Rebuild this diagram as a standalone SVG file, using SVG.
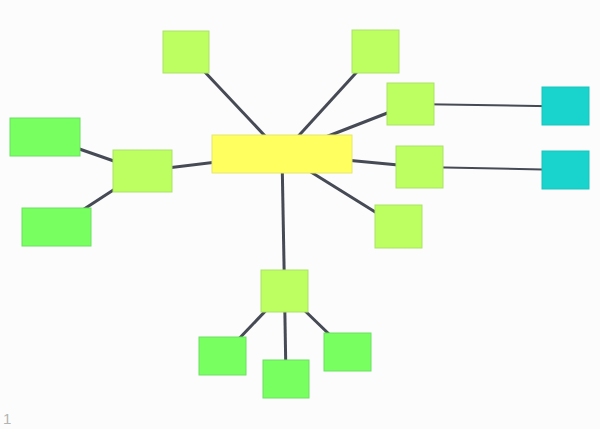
<svg xmlns="http://www.w3.org/2000/svg" width="600" height="429" viewBox="0 0 600 429">
<style>
.e{stroke:#464a54;stroke-width:3;fill:none}
.t{stroke:#464a54;stroke-width:2;fill:none}
.c{fill:#ffff60;stroke:#e6e670;stroke-width:1}
.l{fill:#bdff60;stroke:#a9e266;stroke-width:1}
.g{fill:#78ff60;stroke:#6ae060;stroke-width:1}
.y{fill:#18d4cc;stroke:#18c4bc;stroke-width:1}
.lbl{font-family:"Liberation Sans",Arial,sans-serif;font-size:15px;fill:#b4b4b4}
</style>
<rect width="600" height="429" fill="#fcfcfc"/>
<g id="connectors">
<line class="e" x1="282" y1="154" x2="186" y2="52"/>
<line class="e" x1="282" y1="154" x2="375.5" y2="51.5"/>
<line class="e" x1="282" y1="154" x2="410.5" y2="104"/>
<line class="e" x1="282" y1="154" x2="419.5" y2="167"/>
<line class="e" x1="282" y1="154" x2="142.5" y2="171"/>
<line class="e" x1="282" y1="154" x2="284.5" y2="291"/>
<line class="e" x1="282" y1="154" x2="398.5" y2="226.5"/>
<line class="t" x1="410.5" y1="104" x2="565.5" y2="106.5"/>
<line class="t" x1="419.5" y1="167" x2="565.5" y2="170"/>
<line class="e" x1="142.5" y1="171" x2="45" y2="137"/>
<line class="e" x1="142.5" y1="171" x2="56.5" y2="227"/>
<line class="e" x1="284.5" y1="291" x2="222.5" y2="356"/>
<line class="e" x1="284.5" y1="291" x2="286" y2="379"/>
<line class="e" x1="284.5" y1="291" x2="347.5" y2="352"/>
</g>
<g id="center"><rect class="c" x="212" y="135" width="140" height="38"/></g>
<g id="n-top-left"><rect class="l" x="163" y="31" width="46" height="42"/></g>
<g id="n-top-right"><rect class="l" x="352" y="30" width="47" height="43"/></g>
<g id="n-right-1"><rect class="l" x="387" y="83" width="47" height="42"/></g>
<g id="n-right-2"><rect class="l" x="396" y="146" width="47" height="42"/></g>
<g id="n-lower-right"><rect class="l" x="375" y="205" width="47" height="43"/></g>
<g id="n-left"><rect class="l" x="113" y="150" width="59" height="42"/></g>
<g id="n-bottom"><rect class="l" x="261" y="270" width="47" height="42"/></g>
<g id="c-right-1"><rect class="y" x="542" y="87" width="47" height="38"/></g>
<g id="c-right-2"><rect class="y" x="542" y="151" width="47" height="38"/></g>
<g id="g-left-1"><rect class="g" x="10" y="118" width="70" height="38"/></g>
<g id="g-left-2"><rect class="g" x="22" y="208" width="69" height="38"/></g>
<g id="g-bottom-1"><rect class="g" x="199" y="337" width="47" height="38"/></g>
<g id="g-bottom-2"><rect class="g" x="263" y="360" width="46" height="38"/></g>
<g id="g-bottom-3"><rect class="g" x="324" y="333" width="47" height="38"/></g>
<text class="lbl" x="3" y="424">1</text>
</svg>
